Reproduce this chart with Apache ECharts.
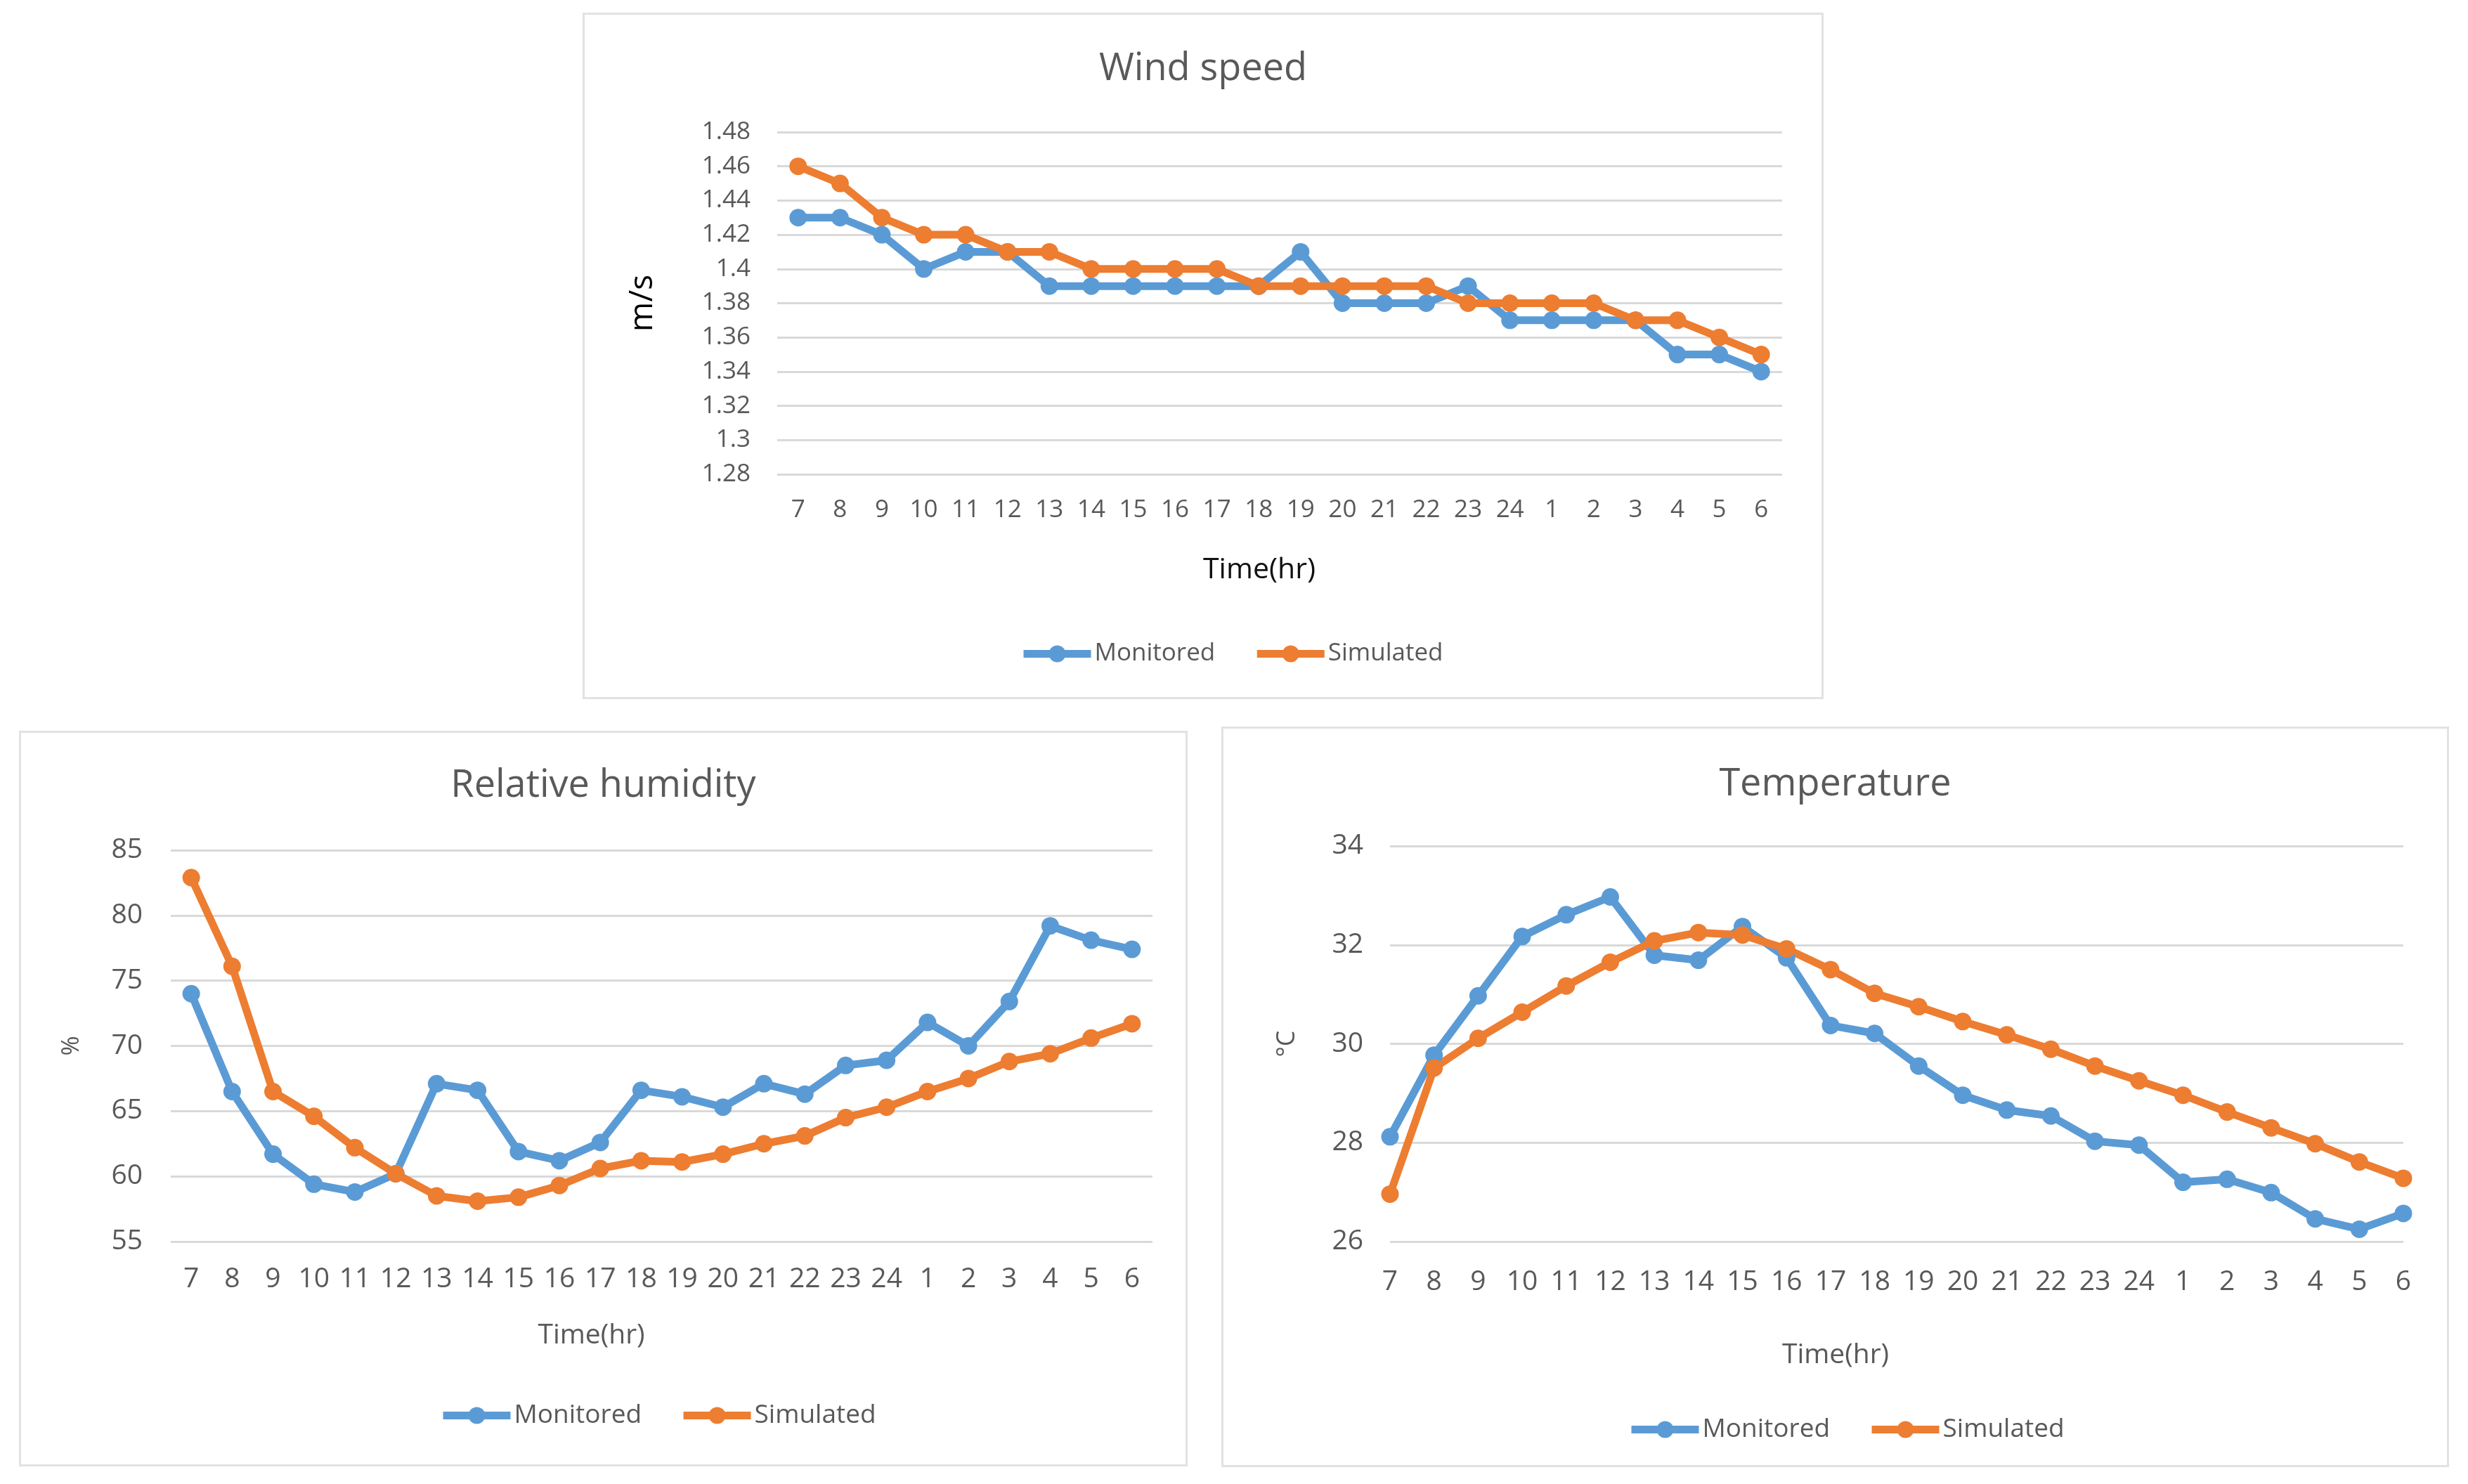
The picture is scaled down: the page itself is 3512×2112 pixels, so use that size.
<!DOCTYPE html>
<html>
<head>
<meta charset="utf-8">
<script src="https://cdn.jsdelivr.net/npm/echarts@6/dist/echarts.min.js"></script>
<style>
  html, body { margin: 0; padding: 0; background: #fff; }
  body { width: 3512px; height: 2112px; position: relative; overflow: hidden; }
  .panel {
    position: absolute;
    box-sizing: border-box;
    border: 3px solid #e2e2e2;
    background: #fff;
  }
</style>
</head>
<body>
<div id="wind" class="panel" style="left:829px;top:18px;width:1766px;height:977px;"></div>
<div id="humidity" class="panel" style="left:27px;top:1040px;width:1663px;height:1047px;"></div>
<div id="temperature" class="panel" style="left:1738px;top:1034px;width:1747px;height:1054px;"></div>
<script>
const hours = ['7', '8', '9', '10', '11', '12', '13', '14', '15', '16', '17', '18',
  '19', '20', '21', '22', '23', '24', '1', '2', '3', '4', '5', '6'];

const windMonitored = [1.43, 1.43, 1.42, 1.40, 1.41, 1.41, 1.39, 1.39, 1.39, 1.39, 1.39, 1.39,
  1.41, 1.38, 1.38, 1.38, 1.39, 1.37, 1.37, 1.37, 1.37, 1.35, 1.35, 1.34];
const windSimulated = [1.46, 1.45, 1.43, 1.42, 1.42, 1.41, 1.41, 1.40, 1.40, 1.40, 1.40, 1.39,
  1.39, 1.39, 1.39, 1.39, 1.38, 1.38, 1.38, 1.38, 1.37, 1.37, 1.36, 1.35];

const humidityMonitored = [74.0, 66.5, 61.7, 59.4, 58.8, 60.2, 67.1, 66.6, 61.9, 61.2, 62.6, 66.6,
  66.1, 65.3, 67.1, 66.3, 68.5, 68.9, 71.8, 70.0, 73.4, 79.2, 78.1, 77.4];
const humiditySimulated = [82.9, 76.1, 66.5, 64.6, 62.2, 60.2, 58.5, 58.1, 58.4, 59.3, 60.6, 61.2,
  61.1, 61.7, 62.5, 63.1, 64.5, 65.3, 66.5, 67.5, 68.8, 69.4, 70.6, 71.7];

const temperatureMonitored = [28.12, 29.77, 30.97, 32.17, 32.61, 32.97, 31.79, 31.69, 32.37, 31.74, 30.37, 30.21,
  29.55, 28.96, 28.66, 28.54, 28.03, 27.95, 27.2, 27.26, 26.99, 26.46, 26.25, 26.57];
const temperatureSimulated = [26.96, 29.51, 30.11, 30.64, 31.17, 31.65, 32.08, 32.25, 32.2, 31.92, 31.5, 31.02,
  30.75, 30.45, 30.18, 29.89, 29.55, 29.25, 28.96, 28.62, 28.3, 27.98, 27.61, 27.28];

const seriesNames = ['Monitored', 'Simulated'];
const seriesColors = ['#5b9bd5', '#ed7d31'];

const FONT = '"Open Sans", sans-serif';
const GREY = '#595959';
const LINE_WIDTH = 11;

function lineSeries(name, color, data) {
  return {
    name: name,
    type: 'line',
    data: data,
    symbol: 'circle',
    symbolSize: 25,
    color: color,
    lineStyle: { width: LINE_WIDTH, color: color },
    itemStyle: { color: color },
    emphasis: { disabled: true },
    animation: false,
  };
}

function buildOption(cfg) {
  return {
    backgroundColor: '#fff',
    textStyle: { fontFamily: FONT },
    animation: false,
    title: {
      text: cfg.title,
      left: 'center',
      top: cfg.titleTop,
      textStyle: { fontFamily: FONT, fontSize: 54, fontWeight: 'normal', color: GREY },
    },
    legend: {
      data: seriesNames,
      left: cfg.legendLeft,
      top: cfg.legendTop,
      itemWidth: 96,
      itemHeight: 30,
      itemGap: 54,
      lineStyle: { width: LINE_WIDTH },
      textStyle: { fontFamily: FONT, fontSize: cfg.legendFont, color: GREY },
    },
    grid: cfg.grid,
    xAxis: {
      type: 'category',
      data: hours,
      boundaryGap: cfg.boundaryGap,
      name: 'Time(hr)',
      nameLocation: 'middle',
      nameGap: cfg.xNameGap,
      nameTextStyle: {
        fontFamily: FONT,
        fontSize: cfg.xNameFont,
        color: cfg.nameColor,
        fontWeight: cfg.nameWeight,
        padding: [0, cfg.xNameShift, 0, 0],
      },
      axisLine: { show: false },
      axisTick: { show: false },
      axisLabel: {
        fontFamily: FONT,
        fontSize: cfg.tickFont,
        color: GREY,
        margin: cfg.xLabelMargin,
        interval: 0,
      },
      splitLine: { show: false },
    },
    yAxis: {
      type: 'value',
      min: cfg.yMin,
      max: cfg.yMax,
      interval: cfg.yInterval,
      name: cfg.yName,
      nameLocation: 'middle',
      nameRotate: 90,
      nameGap: cfg.yNameGap,
      nameTextStyle: {
        fontFamily: FONT,
        fontSize: cfg.yNameFont,
        color: cfg.yNameColor,
        fontWeight: cfg.nameWeight,
      },
      axisLine: { show: false },
      axisTick: { show: false },
      axisLabel: {
        fontFamily: FONT,
        fontSize: cfg.tickFont,
        color: GREY,
        margin: cfg.yLabelMargin,
        formatter: (v) => String(+v.toFixed(2)),
      },
      splitLine: { lineStyle: { color: '#d9d9d9', width: 3 } },
    },
    series: [
      lineSeries(seriesNames[0], seriesColors[0], cfg.monitored),
      lineSeries(seriesNames[1], seriesColors[1], cfg.simulated),
    ],
  };
}

const panels = [
  {
    id: 'wind',
    title: 'Wind speed',
    titleTop: 46,
    legendLeft: 614,
    legendTop: 887,
    legendFont: 35,
    grid: { left: 274, right: 56, top: 167, bottom: 317 },
    boundaryGap: true,
    xNameGap: 116,
    xNameFont: 41,
    xNameShift: 58,
    nameColor: '#111',
    nameWeight: 500,
    tickFont: 35,
    xLabelMargin: 34,
    yLabelMargin: 38,
    yMin: 1.28,
    yMax: 1.48,
    yInterval: 0.02,
    yName: 'm/s',
    yNameGap: 168,
    yNameFont: 46,
    yNameColor: '#000',
    monitored: windMonitored,
    simulated: windSimulated,
  },
  {
    id: 'humidity',
    title: 'Relative humidity',
    titleTop: 44,
    legendLeft: 590,
    legendTop: 948,
    legendFont: 37,
    grid: { left: 213, right: 47, top: 167, bottom: 317 },
    boundaryGap: true,
    xNameGap: 114,
    xNameFont: 39,
    xNameShift: 200,
    nameColor: GREY,
    nameWeight: 'normal',
    tickFont: 39,
    xLabelMargin: 34,
    yLabelMargin: 40,
    yMin: 55,
    yMax: 85,
    yInterval: 5,
    yName: '%',
    yNameGap: 124,
    yNameFont: 34,
    yNameColor: GREY,
    monitored: humidityMonitored,
    simulated: humiditySimulated,
  },
  {
    id: 'temperature',
    title: 'Temperature',
    titleTop: 48,
    legendLeft: 570,
    legendTop: 974,
    legendFont: 37,
    grid: { left: 237, right: 62, top: 167, bottom: 318 },
    boundaryGap: false,
    xNameGap: 142,
    xNameFont: 39,
    xNameShift: 174,
    nameColor: GREY,
    nameWeight: 'normal',
    tickFont: 39,
    xLabelMargin: 38,
    yLabelMargin: 38,
    yMin: 26,
    yMax: 34,
    yInterval: 2,
    yName: '°C',
    yNameGap: 128,
    yNameFont: 36,
    yNameColor: GREY,
    monitored: temperatureMonitored,
    simulated: temperatureSimulated,
  },
];

panels.forEach((cfg) => {
  const chart = echarts.init(document.getElementById(cfg.id), null, { renderer: 'canvas' });
  chart.setOption(buildOption(cfg));
});
</script>
</body>
</html>
